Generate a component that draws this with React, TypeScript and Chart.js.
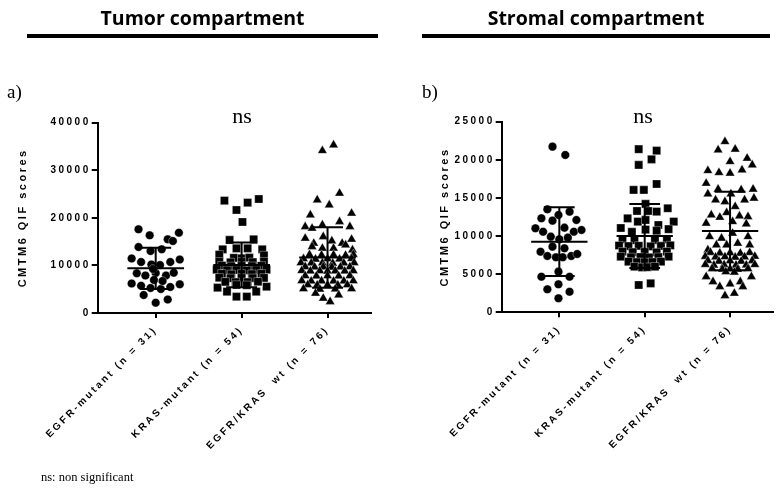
import { useEffect, useRef } from "react";
import { Chart, registerables } from "chart.js";

Chart.register(...registerables);

// ---------- data ----------
const categories = ["EGFR-mutant (n = 31)", "KRAS-mutant (n = 54)", "EGFR/KRAS  wt (n = 76)"];
const tumorTicks = [0, 10000, 20000, 30000, 40000];
const stromalTicks = [0, 5000, 10000, 15000, 20000, 25000];

// Tumor compartment
const tumorEgfrValues = [17600, 16330, 16880, 15490, 15130, 13870, 13030, 13390, 11460, 10720, 10720, 11250, 10190, 10090, 8340, 7880, 8410, 7880, 8470, 6940, 6200, 5740, 5260, 5040, 5470, 6030, 3780, 2840, 2170, 9250, 6730];
const tumorEgfrOffsets = [-0.2, -0.07, 0.27, 0.14, 0.2, -0.2, -0.06, 0.07, -0.28, -0.17, 0.17, 0.28, -0.05, 0.05, -0.22, -0.12, 0, 0.12, 0.21, -0.02, -0.28, -0.17, -0.06, 0.06, 0.17, 0.28, -0.14, 0.14, 0, -0.03, 0.08];

const tumorKrasValues = [23610, 23190, 23960, 21650, 19130, 15350, 15490, 13390, 13600, 13600, 13390, 5320, 4480, 3430, 3430, 4480, 5530, 12250, 12120, 11600, 11500, 11620, 10800, 10650, 10750, 10680, 10820, 9950, 9820, 9900, 9850, 9930, 9100, 9000, 9050, 8980, 9060, 9120, 8250, 8150, 8220, 8180, 8260, 7420, 7300, 7380, 7330, 7400, 6560, 6480, 6500, 6570, 5900, 5850];
const tumorKrasOffsets = [-0.2, 0.07, 0.2, -0.06, 0.01, -0.14, 0.14, -0.22, -0.06, 0.07, 0.24, -0.28, -0.17, -0.06, 0.06, 0.17, 0.29, -0.26, 0.26, -0.09, 0, 0.09, -0.26, -0.13, 0, 0.13, 0.26, -0.23, -0.12, 0, 0.12, 0.23, -0.29, -0.17, -0.06, 0.06, 0.17, 0.29, -0.23, -0.12, 0, 0.12, 0.23, -0.26, -0.13, 0, 0.13, 0.26, -0.19, -0.07, 0.07, 0.19, -0.06, 0.06];

const tumorWtValues = [34120, 35310, 25160, 23750, 22700, 20600, 20960, 18140, 17800, 18500, 19190, 18140, 15700, 14650, 16040, 15130, 14650, 15490, 13940, 13600, 13600, 14290, 13240, 12250, 12150, 12200, 12100, 12300, 11400, 11300, 11380, 11320, 11420, 10550, 10480, 10520, 10460, 10500, 10570, 9720, 9640, 9680, 9620, 9660, 9700, 8900, 8820, 8850, 8780, 8840, 8800, 8880, 7820, 7750, 7800, 7760, 7830, 6780, 6700, 6740, 6690, 6720, 6770, 5930, 5860, 5880, 5850, 5910, 5080, 5000, 5020, 5070, 4140, 3780, 3090, 2380];
const tumorWtOffsets = [-0.06, 0.07, 0.14, -0.12, 0.02, -0.2, 0.28, -0.26, -0.18, -0.06, 0.14, 0.26, -0.26, -0.16, -0.05, 0.05, 0.17, 0.28, -0.18, -0.06, 0.07, 0.21, 0.29, -0.21, -0.07, 0.07, 0.21, 0.3, -0.28, -0.14, 0, 0.14, 0.28, -0.31, -0.19, -0.06, 0.06, 0.19, 0.31, -0.26, -0.15, -0.05, 0.05, 0.15, 0.26, -0.3, -0.2, -0.09, 0, 0.09, 0.2, 0.3, -0.26, -0.13, 0, 0.13, 0.26, -0.3, -0.19, -0.07, 0.07, 0.19, 0.3, -0.23, -0.12, 0, 0.12, 0.23, -0.28, -0.09, 0.09, 0.28, -0.14, 0.13, -0.05, 0.03];

const tumorMeans = [9400, 10100, 11650];
const tumorSDs = [4330, 4700, 6350];

// Stromal compartment
const stromalEgfrValues = [21730, 20640, 13510, 12770, 13200, 12330, 12020, 12110, 11020, 10570, 11100, 10570, 10800, 9920, 9580, 9790, 8610, 8400, 7950, 7390, 7220, 7220, 7390, 7650, 5330, 4670, 4670, 3020, 3670, 2700, 1840];
const stromalEgfrOffsets = [-0.08, 0.07, -0.14, -0.01, 0.12, -0.21, -0.08, 0.2, -0.28, -0.19, 0.06, 0.17, 0.26, -0.1, 0, 0.1, -0.08, 0.06, -0.22, -0.14, -0.04, 0.04, 0.14, 0.21, -0.01, -0.21, 0.12, -0.14, -0.01, 0.12, -0.01];

const stromalKrasValues = [21390, 21200, 20070, 19330, 16050, 16050, 16830, 14210, 13290, 13290, 13200, 13650, 12330, 11890, 12110, 11450, 11890, 11060, 10540, 10850, 10700, 10900, 3580, 3800, 9550, 9450, 9480, 9560, 8760, 8680, 8720, 8650, 8700, 8780, 7950, 7880, 7920, 7860, 7960, 7300, 7220, 7250, 7200, 7240, 7310, 6640, 6580, 6560, 6590, 6650, 5980, 5900, 5920, 5990];
const stromalKrasOffsets = [-0.07, 0.14, 0.08, -0.07, -0.13, -0.01, 0.14, 0.01, -0.09, 0.04, 0.14, 0.27, -0.2, -0.08, 0.01, 0.16, 0.34, -0.28, -0.15, 0.01, 0.14, 0.28, -0.07, 0.07, -0.26, -0.12, 0.12, 0.26, -0.3, -0.19, -0.07, 0.07, 0.19, 0.3, -0.26, -0.14, 0, 0.14, 0.26, -0.28, -0.16, -0.05, 0.05, 0.16, 0.28, -0.19, -0.09, 0, 0.09, 0.19, -0.12, -0.03, 0.03, 0.12];

const stromalWtValues = [22380, 21290, 21390, 19760, 20200, 18580, 18320, 18240, 18670, 19330, 16920, 16140, 15520, 16050, 16140, 15520, 14730, 14510, 13860, 14730, 14960, 13070, 12770, 12460, 12630, 12540, 11680, 11890, 11590, 9920, 9710, 10360, 8830, 9050, 9920, 8830, 8830, 8170, 4670, 4010, 3360, 3710, 4010, 4670, 3360, 2180, 2490, 7850, 7760, 7800, 7740, 7830, 7320, 7240, 7280, 7220, 7260, 7330, 6780, 6700, 6740, 6690, 6770, 6260, 6180, 6220, 6170, 6200, 6250, 5720, 5650, 5690, 5640, 5710, 5300, 5260];
const stromalWtOffsets = [-0.06, -0.14, 0.06, 0, 0.2, -0.26, -0.13, 0, 0.14, 0.26, -0.28, -0.14, -0.26, 0.13, 0.27, 0.01, -0.17, -0.06, 0.06, 0.17, 0.28, -0.04, -0.22, -0.12, 0.11, 0.21, -0.28, 0.03, 0.19, -0.24, -0.1, 0.03, -0.04, 0.09, 0.21, -0.16, 0.23, -0.26, -0.28, -0.2, -0.12, 0, 0.12, 0.25, 0.15, -0.06, 0.05, -0.23, -0.12, 0, 0.12, 0.23, -0.29, -0.17, -0.06, 0.06, 0.17, 0.29, -0.26, -0.13, 0, 0.13, 0.26, -0.29, -0.19, -0.07, 0.07, 0.19, 0.29, -0.21, -0.09, 0, 0.09, 0.21, -0.05, 0.05];

const stromalMeans = [9270, 10000, 10670];
const stromalSDs = [4500, 4200, 5150];

// ---------- styling ----------
const FONT_FAMILY = "'Liberation Sans', Arial, sans-serif";
const LETTER_SPACING = "2.5px";
const pointStyles = ["circle", "rect", "triangle"];
const pointRadii = [4.3, 5.8, 5.4];
const MEAN_HALF = 0.33;
const CAP_HALF = 0.18;

const spacingPlugin = {
  id: "letterSpacing",
  beforeLayout(chart: any) {
    chart.ctx.letterSpacing = LETTER_SPACING;
  },
  beforeDraw(chart: any) {
    chart.ctx.letterSpacing = LETTER_SPACING;
  },
};

function meanSdPlugin(means: number[], sds: number[]) {
  return {
    id: "meanSd",
    afterDatasetsDraw(chart: any) {
      const { ctx } = chart;
      const xs = chart.scales.x;
      const ys = chart.scales.y;
      ctx.save();
      ctx.strokeStyle = "#000";
      ctx.lineWidth = 2;
      ctx.lineCap = "butt";
      means.forEach((m, i) => {
        const c = i + 1;
        const yM = ys.getPixelForValue(m);
        const yTop = ys.getPixelForValue(m + sds[i]);
        const yBot = ys.getPixelForValue(Math.max(0, m - sds[i]));
        ctx.beginPath();
        ctx.moveTo(xs.getPixelForValue(c - MEAN_HALF), yM);
        ctx.lineTo(xs.getPixelForValue(c + MEAN_HALF), yM);
        ctx.moveTo(xs.getPixelForValue(c), yTop);
        ctx.lineTo(xs.getPixelForValue(c), yBot);
        ctx.moveTo(xs.getPixelForValue(c - CAP_HALF), yTop);
        ctx.lineTo(xs.getPixelForValue(c + CAP_HALF), yTop);
        ctx.moveTo(xs.getPixelForValue(c - CAP_HALF), yBot);
        ctx.lineTo(xs.getPixelForValue(c + CAP_HALF), yBot);
        ctx.stroke();
      });
      ctx.restore();
    },
  };
}

type PanelProps = {
  left: number;
  width: number;
  groups: { values: number[]; offsets: number[] }[];
  means: number[];
  sds: number[];
  ticks: number[];
  yAxisWidth: number;
  titlePad: number;
  topPad: number;
  rightPad: number;
  xAxisHeight: number;
};

function DotPanel(p: PanelProps) {
  const ref = useRef<HTMLCanvasElement | null>(null);
  useEffect(() => {
    if (!ref.current) return;
    const tickFont = { family: FONT_FAMILY, size: 10, weight: "bold" as const };
    const chart = new Chart(ref.current, {
      type: "scatter",
      data: {
        datasets: p.groups.map((g, gi) => ({
          data: g.values.map((v, i) => ({ x: gi + 1 + g.offsets[i], y: v })),
          pointStyle: pointStyles[gi] as any,
          pointRadius: pointRadii[gi],
          pointHoverRadius: pointRadii[gi],
          backgroundColor: "#000",
          borderColor: "rgba(255,255,255,0.8)",
          borderWidth: 0.45,
        })),
      },
      options: {
        responsive: false,
        animation: false,
        events: [],
        layout: { padding: { top: p.topPad, right: p.rightPad, left: 0, bottom: 0 } },
        plugins: { legend: { display: false }, tooltip: { enabled: false } },
        scales: {
          x: {
            type: "linear",
            min: 0.325,
            max: 3.5,
            afterBuildTicks: (s: any) => {
              s.ticks = categories.map((_, i) => ({ value: i + 1 }));
            },
            afterFit: (s: any) => {
              s.height = p.xAxisHeight;
            },
            ticks: {
              autoSkip: false,
              minRotation: 45,
              maxRotation: 45,
              padding: 6,
              color: "#000",
              font: tickFont,
              callback: (v: any) => categories[Math.round(Number(v)) - 1] ?? "",
            },
            grid: { display: true, drawOnChartArea: false, drawTicks: true, tickLength: 5, color: "#000", lineWidth: 2 },
            border: { display: true, color: "#000", width: 2 },
          },
          y: {
            type: "linear",
            min: p.ticks[0],
            max: p.ticks[p.ticks.length - 1],
            afterBuildTicks: (s: any) => {
              s.ticks = p.ticks.map((v) => ({ value: v }));
            },
            afterFit: (s: any) => {
              s.width = p.yAxisWidth;
            },
            ticks: {
              padding: 1,
              color: "#000",
              font: tickFont,
              callback: (v: any) => String(v),
            },
            grid: { display: true, drawOnChartArea: false, drawTicks: true, tickLength: 6, color: "#000", lineWidth: 2 },
            border: { display: true, color: "#000", width: 2 },
            title: {
              display: true,
              text: "CMTM6 QIF scores",
              color: "#000",
              font: { family: FONT_FAMILY, size: 11, weight: "bold" },
              padding: { top: p.titlePad, bottom: 0 },
            },
          },
        },
      },
      plugins: [spacingPlugin, meanSdPlugin(p.means, p.sds)],
    } as any);
    return () => chart.destroy();
  }, []);
  return (
    <canvas
      ref={ref}
      width={p.width}
      height={489}
      style={{ position: "absolute", left: p.left, top: 0, width: p.width, height: 489 }}
    />
  );
}

const serif = "'Liberation Serif', 'Times New Roman', serif";
const sans = "'Open Sans', sans-serif";

export default function App() {
  return (
    <div style={{ position: "absolute", left: 0, top: 0, width: 779, height: 489, background: "#fff", overflow: "hidden" }}>
      <DotPanel
        left={0}
        width={390}
        groups={[
          { values: tumorEgfrValues, offsets: tumorEgfrOffsets },
          { values: tumorKrasValues, offsets: tumorKrasOffsets },
          { values: tumorWtValues, offsets: tumorWtOffsets },
        ]}
        means={tumorMeans}
        sds={tumorSDs}
        ticks={tumorTicks}
        yAxisWidth={97.7}
        titlePad={16.4}
        topPad={122.7}
        rightPad={19.5}
        xAxisHeight={176}
      />
      <DotPanel
        left={390}
        width={389}
        groups={[
          { values: stromalEgfrValues, offsets: stromalEgfrOffsets },
          { values: stromalKrasValues, offsets: stromalKrasOffsets },
          { values: stromalWtValues, offsets: stromalWtOffsets },
        ]}
        means={stromalMeans}
        sds={stromalSDs}
        ticks={stromalTicks}
        yAxisWidth={111.7}
        titlePad={48.4}
        topPad={121.7}
        rightPad={4}
        xAxisHeight={176.7}
      />

      {/* headers */}
      <div style={{ position: "absolute", left: 27, width: 351, top: 7.5, textAlign: "center", font: `700 19.5px ${sans}`, lineHeight: "19.5px", color: "#000", whiteSpace: "nowrap" }}>
        Tumor compartment
      </div>
      <div style={{ position: "absolute", left: 27, width: 351, top: 34, height: 4, background: "#000" }} />
      <div style={{ position: "absolute", left: 422, width: 348, top: 7.5, textAlign: "center", font: `700 19.5px ${sans}`, lineHeight: "19.5px", color: "#000", whiteSpace: "nowrap" }}>
        Stromal compartment
      </div>
      <div style={{ position: "absolute", left: 422, width: 348, top: 34, height: 4, background: "#000" }} />

      <div style={{ position: "absolute", left: 7, top: 82, font: `19px ${serif}`, lineHeight: "19px", color: "#000" }}>a)</div>
      <div style={{ position: "absolute", left: 422, top: 82, font: `19px ${serif}`, lineHeight: "19px", color: "#000" }}>b)</div>

      <div style={{ position: "absolute", left: 192, width: 100, top: 104.6, textAlign: "center", font: `22px ${serif}`, lineHeight: "22px", color: "#000" }}>ns</div>
      <div style={{ position: "absolute", left: 593, width: 100, top: 104.6, textAlign: "center", font: `22px ${serif}`, lineHeight: "22px", color: "#000" }}>ns</div>

      <div style={{ position: "absolute", left: 41, top: 470.5, font: `12.5px ${serif}`, lineHeight: "12.5px", color: "#000", whiteSpace: "nowrap" }}>
        ns: non significant
      </div>
    </div>
  );
}
